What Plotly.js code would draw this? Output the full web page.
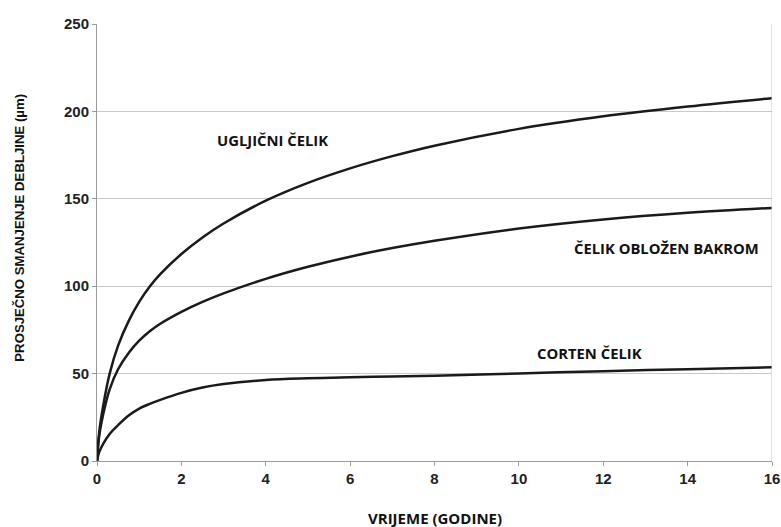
<!DOCTYPE html>
<html>
<head>
<meta charset="utf-8">
<script src="https://cdn.plot.ly/plotly-3.0.1.min.js"></script>
<style>html,body{margin:0;padding:0;background:#fff;}#chart{width:781px;height:527px;}</style>
</head>
<body>
<div id="chart"></div>
<script>
// Time (years) sample positions
const years = [0, 0.05, 0.15, 0.3, 0.5, 0.75, 1, 1.25, 1.5, 2, 2.5, 3, 4, 5, 6, 7, 8, 10, 12, 14, 16];
// Ugljični čelik (carbon steel)
const carbonY = [0, 16, 32, 50, 66, 80, 91, 99.8, 106.9, 118.4, 127.9, 135.9, 148.9, 159.1, 167.4, 174.4, 180.4, 190.0, 197.2, 202.8, 207.6];
// Čelik obložen bakrom (copper-clad steel)
const copperY = [0, 14, 27, 41, 52.5, 61.8, 68.8, 74.2, 78.5, 85.3, 91, 95.9, 104.2, 111.1, 116.9, 121.8, 126, 133, 138.2, 142, 144.8];
// Corten čelik
const cortenY = [0, 5, 10, 15.5, 20.5, 26, 30, 32.7, 35, 39, 42, 44, 46.3, 47.3, 47.9, 48.3, 48.8, 50.1, 51.4, 52.5, 53.6];

const labels = ["UGLJIČNI ČELIK", "ČELIK OBLOŽEN BAKROM", "CORTEN ČELIK"];
const labelX = [4.17, 13.5, 11.68];
const labelY = [183.6, 121.7, 61.6];

const xTitle = "VRIJEME (GODINE)";
const yTitle = "PROSJEČNO SMANJENJE DEBLJINE (µm)";

const xTicks = [0, 2, 4, 6, 8, 10, 12, 14, 16];
const yTicks = [0, 50, 100, 150, 200, 250];

const lineStyle = {color: '#1a1a1a', width: 2.5, shape: 'spline', smoothing: 1};
const traces = [
  {x: years, y: carbonY, mode: 'lines', line: lineStyle, hoverinfo: 'none'},
  {x: years, y: copperY, mode: 'lines', line: lineStyle, hoverinfo: 'none'},
  {x: years, y: cortenY, mode: 'lines', line: lineStyle, hoverinfo: 'none'}
];

const annFont = {family: 'Open Sans, Lato, sans-serif', size: 14.8, color: '#111'};
const annotations = labels.map((t, i) => ({
  x: labelX[i], y: labelY[i], xref: 'x', yref: 'y', text: '<b>' + t + '</b>',
  showarrow: false, font: annFont, xanchor: 'center', yanchor: 'middle'
}));
annotations.push({
  x: 0.5, y: -0.130, xref: 'paper', yref: 'paper', text: '<b>' + xTitle + '</b>',
  showarrow: false, xanchor: 'center', yanchor: 'middle',
  font: {family: 'Open Sans, sans-serif', size: 15, color: '#111'}
});
annotations.push({
  x: -0.114, y: 0.534, xref: 'paper', yref: 'paper', text: '<b>' + yTitle + '</b>',
  showarrow: false, xanchor: 'center', yanchor: 'middle', textangle: -90,
  font: {family: 'Liberation Sans, Arial, sans-serif', size: 13.2, color: '#111'}
});

const tickFont = {family: 'Liberation Sans, Arial, sans-serif', size: 15, color: '#222', weight: 'bold'};

const layout = {
  width: 781, height: 527,
  margin: {l: 97, r: 9, t: 24, b: 66},
  paper_bgcolor: '#fff', plot_bgcolor: '#fff',
  showlegend: false,
  font: {family: 'Liberation Sans, Arial, sans-serif', color: '#222'},
  xaxis: {
    range: [0, 16], tickvals: xTicks, ticktext: xTicks.map(String),
    showgrid: false, zeroline: false, showline: true, linecolor: '#9a9a9a', linewidth: 1,
    ticks: 'outside', ticklen: 4, tickcolor: '#9a9a9a',
    tickfont: tickFont
  },
  yaxis: {
    range: [0, 250], tickvals: yTicks, ticktext: yTicks.map(String),
    showgrid: true, gridcolor: '#c8c8c8', gridwidth: 1, zeroline: false,
    showline: true, linecolor: '#9a9a9a', linewidth: 1,
    ticks: 'outside', ticklen: 4, tickcolor: '#9a9a9a',
    tickfont: tickFont
  },
  shapes: [
    {type: 'line', xref: 'x', yref: 'paper', x0: 16, x1: 16, y0: 0, y1: 1, line: {color: '#c8c8c8', width: 1}}
  ],
  annotations: annotations
};

Plotly.newPlot('chart', traces, layout, {staticPlot: true, displayModeBar: false});
</script>
</body>
</html>
